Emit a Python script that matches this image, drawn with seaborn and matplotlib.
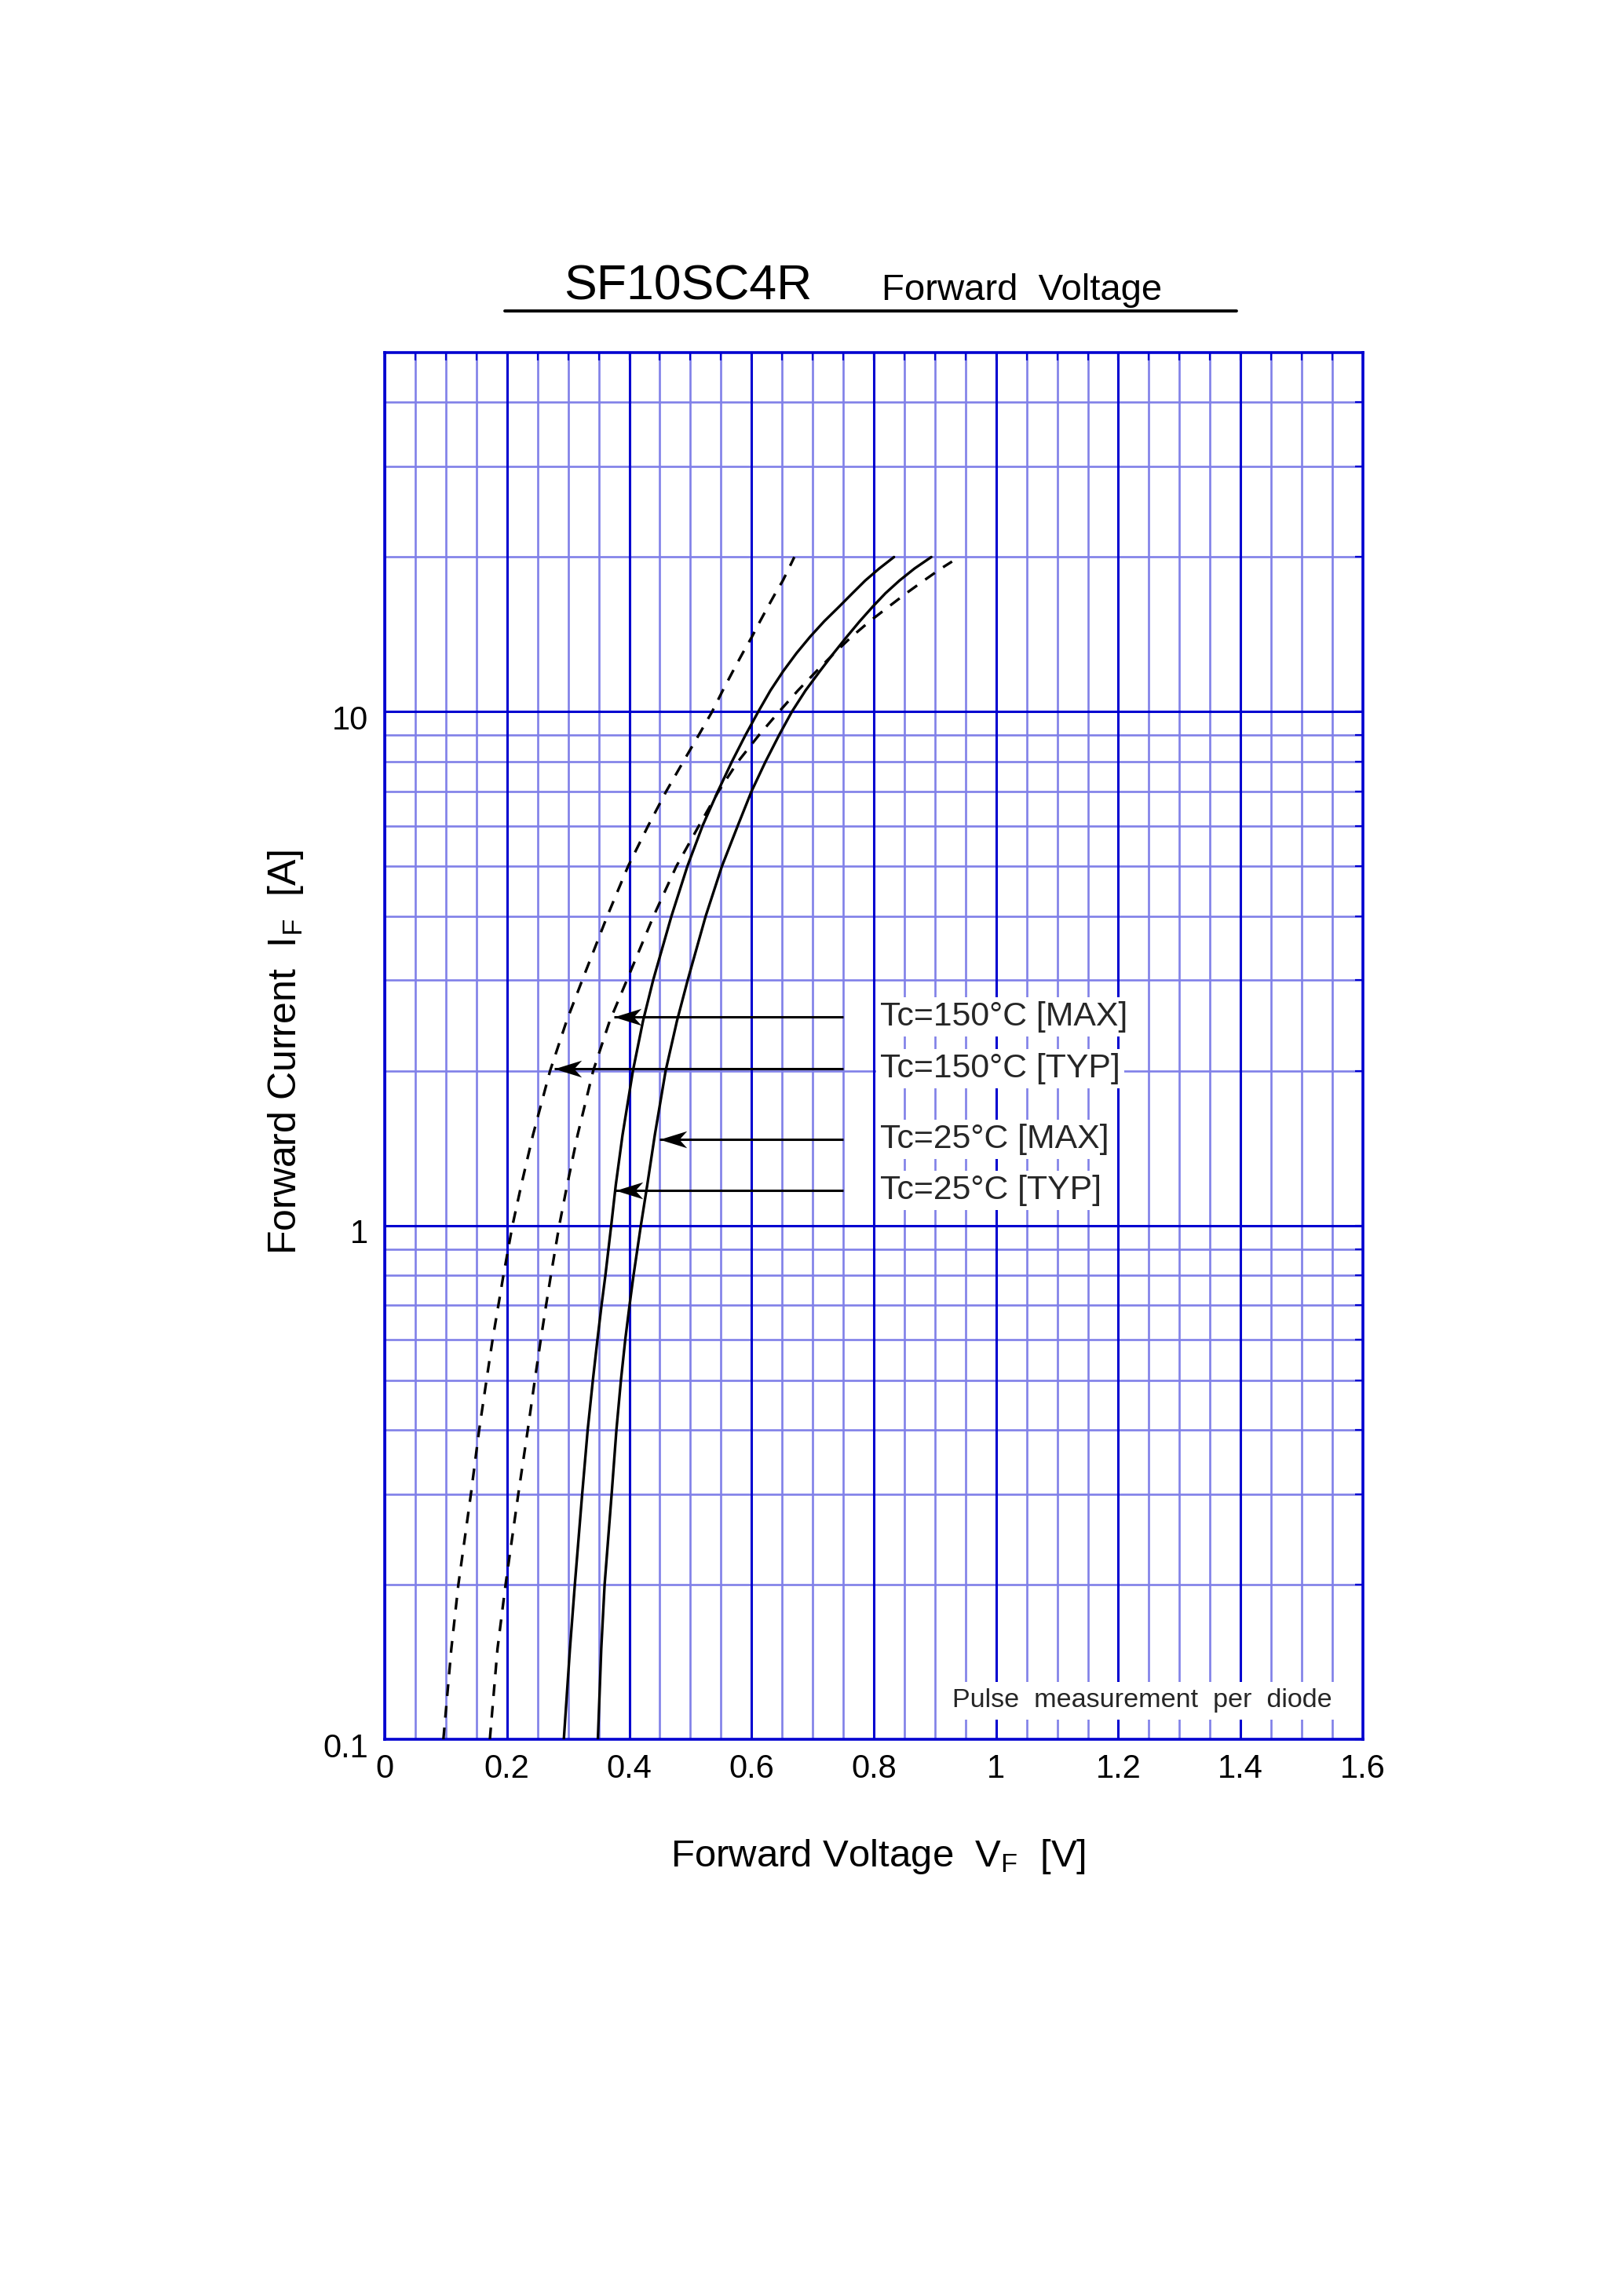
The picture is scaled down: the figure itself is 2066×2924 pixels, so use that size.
import numpy as np
import pandas as pd
import matplotlib
matplotlib.use("Agg")
import matplotlib.pyplot as plt
import seaborn as sns
from matplotlib.path import Path
from matplotlib.ticker import FixedLocator, NullFormatter
from matplotlib.transforms import ScaledTranslation
from matplotlib.lines import Line2D

# ---------------- data ----------------
# forward current levels at which the voltages were read [A]
i_levels = [0.1, 0.15, 0.2, 0.3, 0.4, 0.5, 0.6, 0.7, 0.8, 1.0, 1.2, 1.5, 2.0, 2.5,
            3.0, 4.0, 5.0, 6.0, 7.0, 8.0, 9.0, 10.0, 11.0, 12.0, 13.0, 14.0, 15.0,
            16.0, 17.0, 18.0, 19.0, 20.0]

# Tc=150°C [TYP]  (dashed, leftmost)
v_150_typ = [0.096, 0.109, 0.1205, 0.141, 0.1545, 0.1665, 0.1765, 0.186, 0.1942, 0.209,
             0.2235, 0.2425, 0.2705, 0.2975, 0.323, 0.364, 0.398, 0.431, 0.4605, 0.4885,
             0.5135, 0.5355, 0.553, 0.5697, 0.5855, 0.6008, 0.614, 0.6267, 0.639,
             0.6513, 0.661, 0.670]
i_150_typ = i_levels

# Tc=150°C [MAX]  (dashed, second)
v_150_max = [0.172, 0.1845, 0.1977, 0.2185, 0.234, 0.2455, 0.2553, 0.264, 0.2718, 0.2855,
             0.2985, 0.3155, 0.341, 0.368, 0.396, 0.4397, 0.477, 0.514, 0.546, 0.578,
             0.612, 0.645, 0.676, 0.7065, 0.7354, 0.7639, 0.7935, 0.824, 0.853, 0.882,
             0.910, 0.928]
i_150_max = i_levels[:-1] + [19.6]

# Tc=25°C [TYP]  (solid, left)
v_25_typ = [0.293, 0.303, 0.311, 0.323, 0.332, 0.3405, 0.348, 0.3547, 0.361, 0.3705,
            0.378, 0.389, 0.406, 0.4225, 0.439, 0.469, 0.495, 0.520, 0.545, 0.568,
            0.590, 0.611, 0.631, 0.652, 0.6736, 0.696, 0.719, 0.743, 0.765, 0.786,
            0.809, 0.833]
i_25_typ = i_levels

# Tc=25°C [MAX]  (solid, right)
v_25_max = [0.3487, 0.3542, 0.3597, 0.3712, 0.379, 0.3864, 0.3935, 0.4005, 0.407, 0.419,
            0.4295, 0.4418, 0.4595, 0.478, 0.4955, 0.525, 0.5515, 0.5775, 0.600, 0.623,
            0.645, 0.666, 0.6884, 0.712, 0.7343, 0.756, 0.777, 0.798, 0.819, 0.842,
            0.8667, 0.894]
i_25_max = i_levels

# annotation labels with arrows
label_texts = ["Tc=150°C [MAX]", "Tc=150°C [TYP]", "Tc=25°C [MAX]", "Tc=25°C [TYP]"]
label_current = [2.55, 2.02, 1.47, 1.17]
arrow_tip_v = [0.3745, 0.277, 0.450, 0.3775]
arrow_tail_v = 0.75
label_v = 0.81

x_major = [0, 0.2, 0.4, 0.6, 0.8, 1.0, 1.2, 1.4, 1.6]
x_tick_labels = ["0", "0.2", "0.4", "0.6", "0.8", "1", "1.2", "1.4", "1.6"]
y_major = [0.1, 1, 10]
y_tick_labels = ["0.1", "1", "10"]

# ---------------- style ----------------
sns.set_theme(style="white")
plt.rcParams["font.family"] = ["Liberation Sans", "DejaVu Sans"]
plt.rcParams["mathtext.default"] = "regular"

DARK = "#0000D0"
LIGHT = "#8080E8"
DPI = 200
W, H = 2066, 2924

fig = plt.figure(figsize=(W / DPI, H / DPI), dpi=DPI)
fig.patch.set_facecolor("white")
ax = fig.add_axes([490 / W, 1 - 2215 / H, 1246 / W, 1766 / H])
ax.set_facecolor("white")

curves = [
    (v_150_typ, i_150_typ, (0, (4.5, 3.8))),
    (v_150_max, i_150_max, (0, (4.5, 3.8))),
    (v_25_typ, i_25_typ, "-"),
    (v_25_max, i_25_max, "-"),
]
for v, i, ls in curves:
    df = pd.DataFrame({"VF": v, "IF": i})
    sns.lineplot(data=df, x="VF", y="IF", ax=ax, color="black", lw=1.2,
                 linestyle=ls, sort=False, estimator=None, zorder=4)

ax.set_yscale("log")
ax.set_xlim(0, 1.6)
ax.set_ylim(0.1, 50)

ax.xaxis.set_major_locator(FixedLocator(x_major))
ax.set_xticklabels(x_tick_labels)
ax.xaxis.set_minor_locator(FixedLocator(np.arange(0, 1.6001, 0.05)))
ax.yaxis.set_major_locator(FixedLocator(y_major))
ax.set_yticklabels(y_tick_labels)
ax.yaxis.set_minor_locator(FixedLocator(
    [k * 10.0 ** e for e in (-1, 0, 1) for k in range(2, 10) if k * 10.0 ** e < 50]))
ax.yaxis.set_minor_formatter(NullFormatter())

# light minor grid under dark major grid lines
ax.set_axisbelow(True)
ax.grid(which="minor", color=LIGHT, lw=0.95)
ax.grid(which="major", visible=False)
for xv in x_major:
    ax.axvline(xv, color=DARK, lw=1.1, zorder=1.5)
for yv in y_major:
    ax.axhline(yv, color=DARK, lw=1.1, zorder=1.5)

ax.tick_params(which="both", direction="in", top=True, right=True,
               color=DARK, width=0.8, length=3.6, labelcolor="black",
               labelsize=15)
ax.tick_params(axis="x", which="major", pad=6.4)
ax.tick_params(axis="y", which="major", pad=7.6)
for lab in ax.get_yticklabels():
    lab.set_transform(lab.get_transform() + ScaledTranslation(0, -7 / DPI, fig.dpi_scale_trans))

for s in ax.spines.values():
    s.set_visible(True)
    s.set_color(DARK)
    s.set_linewidth(1.3)
    s.set_zorder(3)

# arrows and labels
head = Path([(0, 0), (1, 0.31), (0.72, 0), (1, -0.31), (0, 0)],
            [Path.MOVETO, Path.LINETO, Path.LINETO, Path.LINETO, Path.CLOSEPOLY])
for txt, cur, tip in zip(label_texts, label_current, arrow_tip_v):
    ax.plot([arrow_tail_v, tip], [cur, cur], color="black", lw=1.1, zorder=5,
            solid_capstyle="butt")
    ax.plot([tip], [cur], marker=head, markersize=25, color="black",
            markeredgewidth=0, zorder=6)
    ax.text(label_v, cur, txt, fontsize=15.4, ha="left", va="center", zorder=6,
            bbox=dict(boxstyle="square,pad=0.12", fc="white", ec="none"))

ax.text(0.968, 0.028, "Pulse  measurement  per  diode", transform=ax.transAxes,
        ha="right", va="center", fontsize=12.3, zorder=6,
        bbox=dict(boxstyle="square,pad=0.25", fc="white", ec="none"))

# axis labels
ax.set_xlabel("")
ax.set_ylabel("Forward Current  I$_F$  [A]", fontsize=18, color="black")
ax.yaxis.set_label_coords(-0.0907, 0.4955)
ax.yaxis.label.set_va("baseline")
fig.text(1119 / W, 1 - 2377 / H, "Forward Voltage  V$_F$  [V]",
         fontsize=17.7, ha="center", va="baseline", color="black")

# title
fig.text(718 / W, 1 - 382 / H, "SF10SC4R", fontsize=22.5,
         ha="left", va="baseline", color="black")
fig.text(1123 / W, 1 - 382 / H, "Forward  Voltage", fontsize=17,
         ha="left", va="baseline", color="black")
fig.add_artist(Line2D([643 / W, 1575 / W], [1 - 396 / H] * 2,
                      lw=1.4, color="black", transform=fig.transFigure))

fig.savefig("out.png", dpi=DPI, facecolor="white")
